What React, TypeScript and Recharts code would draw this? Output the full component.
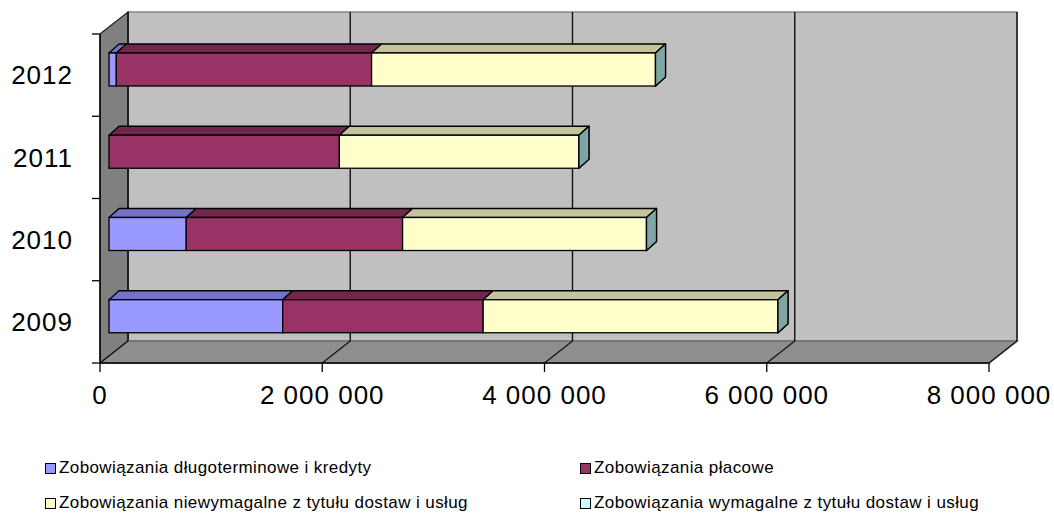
import React from "react";
import { BarChart, Bar, XAxis, YAxis, CartesianGrid } from "recharts";

// values (PLN)
const years = ["2009", "2010", "2011", "2012"];
const longTermLoans = [1563000, 695000, 0, 66000];
const payroll = [1804000, 1947000, 2073000, 2297000];
const notDuePayables = [2653000, 2195000, 2156000, 2555000];
const duePayables = [0, 0, 0, 0];
const xTicks = [0, 2000000, 4000000, 6000000, 8000000];

const SERIES = [
  { key: "longTerm", name: "Zobowiązania długoterminowe i kredyty", front: "#9999ff", top: "#7474c6" },
  { key: "payroll", name: "Zobowiązania płacowe", front: "#993366", top: "#71264c" },
  { key: "notDue", name: "Zobowiązania niewymagalne z tytułu dostaw i usług", front: "#ffffcc", top: "#c3c39d" },
  { key: "due", name: "Zobowiązania wymagalne z tytułu dostaw i usług", front: "#ccffff", top: "#9cc3c3" },
];
const SIDE = "#7fa5a5";

const data = years.map((year, i) => ({
  year,
  longTerm: longTermLoans[i],
  payroll: payroll[i],
  notDue: notDuePayables[i],
  due: duePayables[i],
}));

const FONT = '"Liberation Sans", Arial, sans-serif';
// 3d depth of the whole plot (back wall offset) and of a single bar
const WALL_DX = 28;
const WALL_DY = -22;
const BAR_X = 9;
const BAR_Y = -6;
const DEPTH_X = 10;
const DEPTH_Y = -9;

const fmt = (v: number) => String(v).replace(/\B(?=(\d{3})+(?!\d))/g, " ");

const makeShape = (si: number) => (props: any) => {
  const { x, y, width, height, payload } = props;
  const isLast = SERIES.slice(si + 1).every((s) => !payload?.[s.key]);
  const fx = x + BAR_X;
  const fy = y + BAR_Y;
  const w = Math.max(0, width || 0);
  const s = SERIES[si];
  const parts: React.ReactNode[] = [];
  if (w > 0.5) {
    parts.push(
      <polygon key="t"
        points={`${fx},${fy} ${fx + DEPTH_X},${fy + DEPTH_Y} ${fx + w + DEPTH_X},${fy + DEPTH_Y} ${fx + w},${fy}`}
        fill={s.top} stroke="#000" strokeWidth={1.3} strokeLinejoin="round" />,
      <rect key="f" x={fx} y={fy} width={w} height={height} fill={s.front} stroke="#000" strokeWidth={1.3} />
    );
  }
  if (isLast && (w > 0.5 || si === SERIES.length - 1)) {
    const ex = fx + w;
    parts.push(
      <polygon key="s"
        points={`${ex},${fy} ${ex + DEPTH_X},${fy + DEPTH_Y} ${ex + DEPTH_X},${fy + height + DEPTH_Y} ${ex},${fy + height}`}
        fill={SIDE} stroke="#000" strokeWidth={1.3} strokeLinejoin="round" />
    );
  }
  return <g>{parts}</g>;
};

// back wall, side wall, floor + gridlines drawn on the back wall
const verticalLine = (p: any) => {
  const { x1, index, x, y, width, height } = p;
  const bottom = y + height;
  const els: React.ReactNode[] = [];
  if (index === 0) {
    els.push(
      <polygon key="back"
        points={`${x + WALL_DX},${y + WALL_DY} ${x + width + WALL_DX},${y + WALL_DY} ${x + width + WALL_DX},${bottom + WALL_DY} ${x + WALL_DX},${bottom + WALL_DY}`}
        fill="#c0c0c0" stroke="#858585" strokeWidth={1.5} />,
      <polygon key="left"
        points={`${x},${y} ${x + WALL_DX},${y + WALL_DY} ${x + WALL_DX},${bottom + WALL_DY} ${x},${bottom}`}
        fill="#808080" stroke="#222" strokeWidth={1.3} />,
      <polygon key="floor"
        points={`${x},${bottom} ${x + width},${bottom} ${x + width + WALL_DX},${bottom + WALL_DY} ${x + WALL_DX},${bottom + WALL_DY}`}
        fill="#8e8e8e" stroke="#6e6e6e" strokeWidth={1.5} />
    );
  }
  els.push(
    <line key="g" x1={x1 + WALL_DX} y1={y + WALL_DY} x2={x1 + WALL_DX} y2={bottom + WALL_DY} stroke="#111" strokeWidth={1.4} />,
    <line key="d" x1={x1} y1={bottom} x2={x1 + WALL_DX} y2={bottom + WALL_DY} stroke="#111" strokeWidth={1.2} />
  );
  return <g key={`v-${index}`}>{els}</g>;
};

// tick marks on the category axis sit on band boundaries
const horizontalLine = (p: any) => {
  const { index, x, y, height } = p;
  if (index !== 0) return <g key={`h-${index}`} />;
  const n = years.length;
  return (
    <g key="h-0">
      {Array.from({ length: n + 1 }, (_, i) => (
        <line key={i} x1={x - 8} x2={x} y1={y + (i * height) / n} y2={y + (i * height) / n} stroke="#000" strokeWidth={1.3} />
      ))}
    </g>
  );
};

const Legend = () => (
  <div style={{ position: "absolute", left: 0, top: 0, width: 1054, height: 518, pointerEvents: "none", fontFamily: FONT, fontSize: 17, letterSpacing: 0.4, color: "#000" }}>
    {SERIES.map((s, i) => (
      <div key={s.key} style={{
        position: "absolute",
        left: i % 2 === 0 ? 45 : 580,
        top: (i < 2 ? 468 : 503) - 11,
        height: 22,
        display: "flex",
        alignItems: "center",
        whiteSpace: "nowrap",
      }}>
        <span style={{ width: 9, height: 9, border: "1.5px solid #000", background: s.front, marginRight: 3, display: "inline-block" }} />
        {s.name}
      </div>
    ))}
  </div>
);

export default function App() {
  return (
    <div style={{ position: "absolute", left: 0, top: 0, width: 1054, height: 518, background: "#fff" }}>
      <BarChart
        width={1054}
        height={518}
        data={data}
        layout="vertical"
        barSize={33}
        margin={{ top: 34, right: 65, bottom: 115, left: 20 }}
      >
        <CartesianGrid vertical={verticalLine} horizontal={horizontalLine} />
        <XAxis
          type="number"
          domain={[0, 8000000]}
          ticks={xTicks}
          interval={0}
          tickFormatter={fmt}
          height={40}
          tickSize={9}
          tickMargin={14}
          axisLine={{ stroke: "#000", strokeWidth: 1.3 }}
          tickLine={{ stroke: "#000", strokeWidth: 1.3 }}
          tick={{ fill: "#000", fontSize: 26, fontFamily: FONT, letterSpacing: 1 }}
        />
        <YAxis
          type="category"
          dataKey="year"
          reversed
          width={80}
          tickSize={7}
          tickMargin={20}
          tickLine={false}
          axisLine={{ stroke: "#000", strokeWidth: 1.3 }}
          tick={{ fill: "#000", fontSize: 26, fontFamily: FONT, letterSpacing: 1 }}
        />
        {SERIES.map((s, i) => (
          <Bar
            key={s.key}
            dataKey={s.key}
            name={s.name}
            stackId="a"
            fill={s.front}
            shape={makeShape(i)}
            isAnimationActive={false}
          />
        ))}
      </BarChart>
      <Legend />
    </div>
  );
}
